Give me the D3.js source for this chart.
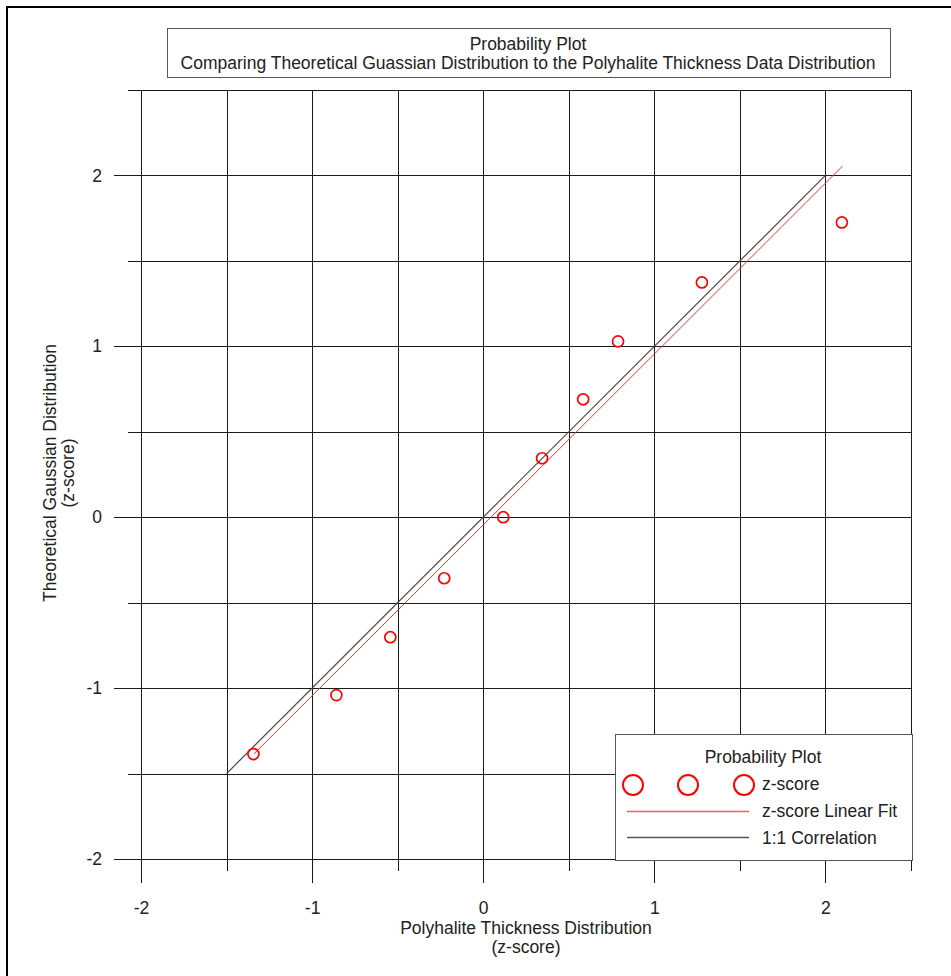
<!DOCTYPE html>
<html>
<head>
<meta charset="utf-8">
<script src="https://cdn.jsdelivr.net/npm/d3@7"></script>
<style>
  body { margin: 0; background: #fff; }
  text { font-family: "Liberation Sans", Arial, sans-serif; fill: #222; }
</style>
</head>
<body>
<script>
// values
var xScores = [-1.343, -0.858, -0.543, -0.228, 0.117, 0.344, 0.584, 0.788, 1.278, 2.096];
var yScores = [-1.386, -1.041, -0.702, -0.357, 0, 0.345, 0.690, 1.029, 1.374, 1.725];
var fitX = [-1.34, 2.10];
var fitY = [-1.385, 2.055];
var oneToOne = [-1.5, 2];
var majorTicks = [-2, -1, 0, 1, 2];
var minorTicks = [-1.5, -0.5, 0.5, 1.5, 2.5];
var gridTicks = [-2, -1.5, -1, -0.5, 0, 0.5, 1, 1.5, 2, 2.5];
var titleLines = ["Probability Plot", "Comparing Theoretical Guassian Distribution to the Polyhalite Thickness Data Distribution"];
var xTitle = ["Polyhalite Thickness Distribution", "(z-score)"];
var yTitle = ["Theoretical Gaussian Distribution", "(z-score)"];
var legendTitle = "Probability Plot";
var legendLabels = ["z-score", "z-score Linear Fit", "1:1 Correlation"];

var width = 951;
var height = 976;
var fontSize = 17.5;

var svg = d3.select("body")
    .append("svg")
    .attr("width", width)
    .attr("height", height);

// outer frame
svg.append("rect")
    .attr("x", 7)
    .attr("y", 7)
    .attr("width", 1000)
    .attr("height", 1000)
    .attr("fill", "none")
    .attr("stroke", "#000")
    .attr("stroke-width", 2);

var x = d3.scaleLinear().domain([-2, 2.5]).range([141, 911]);
var y = d3.scaleLinear().domain([-2, 2.5]).range([859, 90]);

// grid
var grid = svg.append("g")
    .attr("stroke", "#1a1a1a")
    .attr("stroke-width", 1)
    .attr("shape-rendering", "crispEdges");

grid.selectAll(".vgrid")
    .data(gridTicks)
    .enter()
    .append("line")
    .attr("class", "vgrid")
    .attr("x1", function(d) { return Math.round(x(d)) + 0.5; })
    .attr("x2", function(d) { return Math.round(x(d)) + 0.5; })
    .attr("y1", y(2.5))
    .attr("y2", y(-2));

grid.selectAll(".hgrid")
    .data(gridTicks)
    .enter()
    .append("line")
    .attr("class", "hgrid")
    .attr("y1", function(d) { return Math.round(y(d)) + 0.5; })
    .attr("y2", function(d) { return Math.round(y(d)) + 0.5; })
    .attr("x1", x(-2))
    .attr("x2", x(2.5));

// axes: major ticks with labels, minor ticks without
function styleAxis(g) {
    g.select(".domain").remove();
    g.selectAll(".tick line").attr("stroke", "#1a1a1a").attr("shape-rendering", "crispEdges");
    g.selectAll(".tick text")
        .attr("font-size", fontSize)
        .attr("font-family", "Liberation Sans, Arial, sans-serif")
        .attr("fill", "#222");
}

var plainNum = function(d) { return String(d); };

svg.append("g")
    .attr("transform", "translate(0," + y(-2) + ")")
    .call(d3.axisBottom(x).tickValues(majorTicks).tickSize(24).tickPadding(19).tickFormat(plainNum))
    .call(styleAxis);

svg.append("g")
    .attr("transform", "translate(0," + y(-2) + ")")
    .call(d3.axisBottom(x).tickValues(minorTicks).tickSize(12).tickFormat(""))
    .call(styleAxis);

svg.append("g")
    .attr("transform", "translate(" + x(-2) + ",0)")
    .call(d3.axisLeft(y).tickValues(majorTicks).tickSize(27).tickPadding(12).tickFormat(plainNum))
    .call(styleAxis);

svg.append("g")
    .attr("transform", "translate(" + x(-2) + ",0)")
    .call(d3.axisLeft(y).tickValues(minorTicks).tickSize(13).tickFormat(""))
    .call(styleAxis);

// axis titles
svg.selectAll(".xtitle")
    .data(xTitle)
    .enter()
    .append("text")
    .attr("class", "xtitle")
    .attr("x", 526)
    .attr("y", function(d, i) { return 934 + i * 19; })
    .attr("text-anchor", "middle")
    .attr("font-size", fontSize)
    .text(function(d) { return d; });

svg.selectAll(".ytitle")
    .data(yTitle)
    .enter()
    .append("text")
    .attr("class", "ytitle")
    .attr("transform", function(d, i) { return "translate(" + (56 + i * 18) + ",473) rotate(-90)"; })
    .attr("text-anchor", "middle")
    .attr("font-size", fontSize)
    .text(function(d) { return d; });

// lines
var line = d3.line()
    .x(function(d) { return x(d[0]); })
    .y(function(d) { return y(d[1]); });

svg.append("path")
    .datum(oneToOne.map(function(v) { return [v, v]; }))
    .attr("d", line)
    .attr("fill", "none")
    .attr("stroke", "#4a4a4a")
    .attr("stroke-width", 1.2);

svg.append("path")
    .datum(fitX.map(function(v, i) { return [v, fitY[i]]; }))
    .attr("d", line)
    .attr("fill", "none")
    .attr("stroke", "#ff3030")
    .attr("stroke-width", 1);

// points
svg.selectAll(".pt")
    .data(xScores)
    .enter()
    .append("circle")
    .attr("class", "pt")
    .attr("cx", function(d) { return x(d); })
    .attr("cy", function(d, i) { return y(yScores[i]); })
    .attr("r", 5.5)
    .attr("fill", "none")
    .attr("stroke", "#f00")
    .attr("stroke-width", 1.7);

// title box
svg.append("rect")
    .attr("x", 167.5)
    .attr("y", 28.5)
    .attr("width", 723)
    .attr("height", 49)
    .attr("fill", "#fff")
    .attr("stroke", "#555");

svg.selectAll(".title")
    .data(titleLines)
    .enter()
    .append("text")
    .attr("class", "title")
    .attr("x", 528)
    .attr("y", function(d, i) { return 49.5 + i * 19.5; })
    .attr("text-anchor", "middle")
    .attr("font-size", fontSize)
    .text(function(d) { return d; });

// legend
var legend = svg.append("g");

legend.append("rect")
    .attr("x", 615.5)
    .attr("y", 734.5)
    .attr("width", 297)
    .attr("height", 126)
    .attr("fill", "#fff")
    .attr("stroke", "#555");

legend.append("text")
    .attr("x", 763)
    .attr("y", 763)
    .attr("text-anchor", "middle")
    .attr("font-size", fontSize)
    .text(legendTitle);

legend.selectAll(".lgpt")
    .data([633, 688, 744])
    .enter()
    .append("circle")
    .attr("cx", function(d) { return d; })
    .attr("cy", 785)
    .attr("r", 10)
    .attr("fill", "none")
    .attr("stroke", "#f00")
    .attr("stroke-width", 2);

legend.append("line")
    .attr("x1", 627).attr("x2", 749)
    .attr("y1", 811.5).attr("y2", 811.5)
    .attr("stroke", "#ff5a5a")
    .attr("stroke-width", 1.3);

legend.append("line")
    .attr("x1", 627).attr("x2", 749)
    .attr("y1", 837.5).attr("y2", 837.5)
    .attr("stroke", "#555")
    .attr("stroke-width", 1.3);

legend.selectAll(".lglabel")
    .data(legendLabels)
    .enter()
    .append("text")
    .attr("class", "lglabel")
    .attr("x", 762)
    .attr("y", function(d, i) { return 790 + i * 27; })
    .attr("font-size", fontSize)
    .text(function(d) { return d; });
</script>
</body>
</html>
